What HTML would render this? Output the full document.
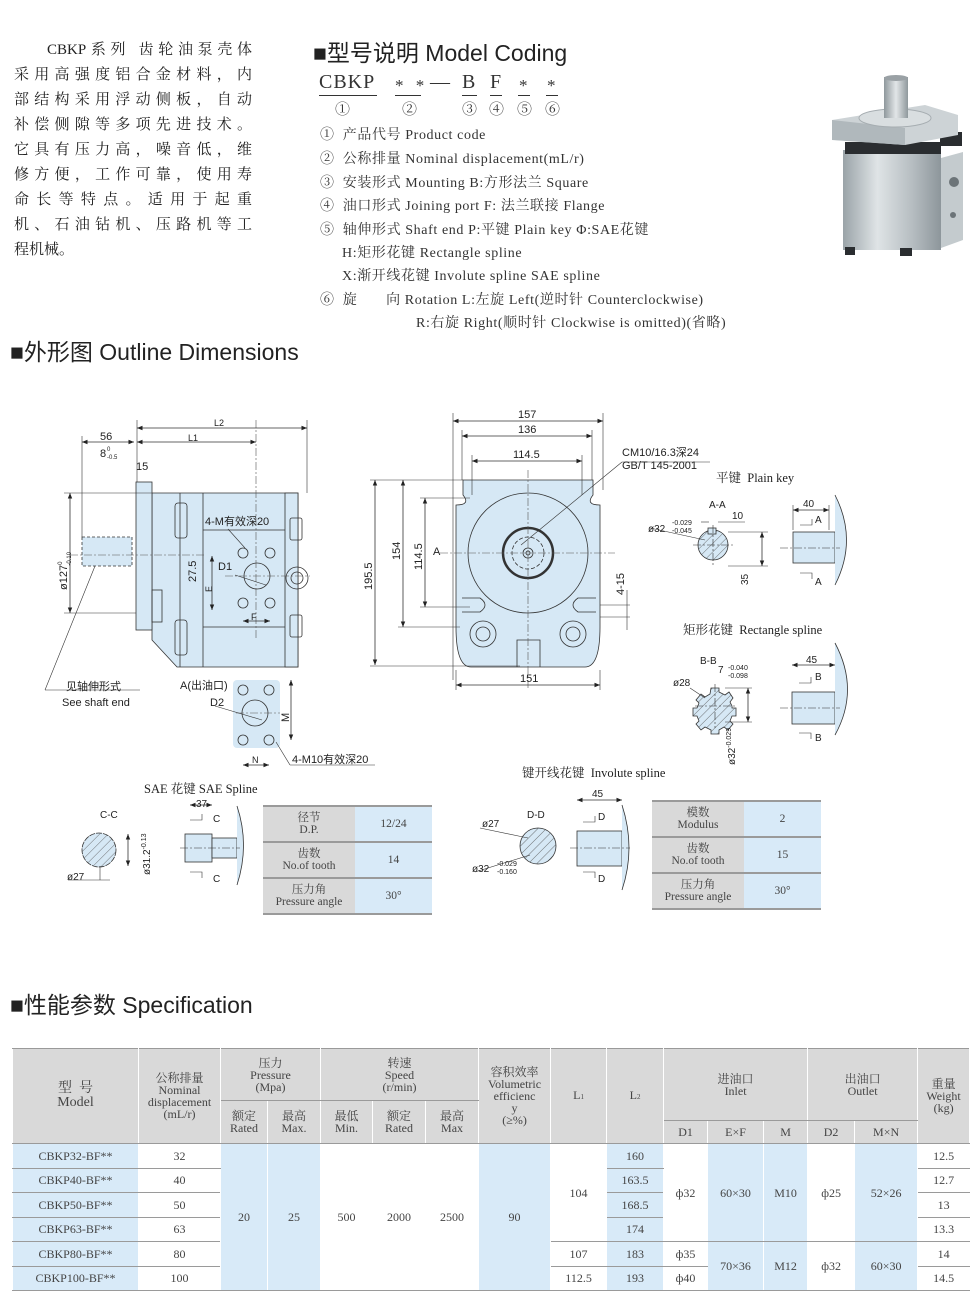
<!DOCTYPE html>
<html><head><meta charset="utf-8">
<style>
*{margin:0;padding:0;box-sizing:border-box}
body{width:980px;height:1300px;background:#fff;position:relative;overflow:hidden;font-family:"Liberation Serif","Noto Serif CJK SC",serif;color:#333}
.a{position:absolute;white-space:nowrap}
.intro{position:absolute;left:14px;width:238px;font-size:15px;text-align:justify;text-align-last:justify;line-height:25px;color:#222}
.h{font-family:"Liberation Sans","Noto Sans CJK SC",sans-serif;font-size:23px;color:#222}
.it{font-size:14px;color:#333;letter-spacing:0.6px}
.sv{position:absolute;left:0;top:0}
table.sp{position:absolute;left:12px;top:1048px;border-collapse:collapse;table-layout:fixed;font-size:12px;line-height:12px;color:#444;text-align:center}
table.sp td{border:1px solid #9a9a9a;border-left:1px solid #fff;border-right:1px solid #fff;vertical-align:middle;padding:0}
.g{background:#d9d9d9}
.b{background:#d8eaf8}
.w{background:#fff}
table.sm{position:absolute;border-collapse:collapse;font-size:11.5px;line-height:12px;color:#444;text-align:center}
table.sm td{border-top:2px solid #9a9a9a;border-bottom:2px solid #9a9a9a;padding:0}
</style></head><body>

<div class="intro" style="top:38px;padding-left:33px">CBKP系列 齿轮油泵壳体</div>
<div class="intro" style="top:63px">采用高强度铝合金材料，内</div>
<div class="intro" style="top:88px">部结构采用浮动侧板，自动</div>
<div class="intro" style="top:113px">补偿侧隙等多项先进技术。</div>
<div class="intro" style="top:138px">它具有压力高，噪音低，维</div>
<div class="intro" style="top:163px">修方便，工作可靠，使用寿</div>
<div class="intro" style="top:188px">命长等特点。适用于起重</div>
<div class="intro" style="top:213px">机、石油钻机、压路机等工</div>
<div class="intro" style="top:238px;text-align-last:left">程机械。</div>

<div class="a h" style="left:313px;top:34px">■型号说明 Model Coding</div>
<div class="a h" style="left:10px;top:333px">■外形图 Outline Dimensions</div>
<div class="a h" style="left:10px;top:986px">■性能参数 Specification</div>

<div class="a" style="left:319px;top:71px;font-size:20px;letter-spacing:1px">CBKP</div>
<div class="a" style="left:395px;top:76px;font-size:17px;letter-spacing:4px">* *</div>
<div class="a" style="left:430px;top:71px;font-size:20px">—</div>
<div class="a" style="left:462px;top:71px;font-size:20px">B</div>
<div class="a" style="left:490px;top:71px;font-size:20px">F</div>
<div class="a" style="left:519px;top:76px;font-size:17px">*</div>
<div class="a" style="left:547px;top:76px;font-size:17px">*</div>
<div class="a" style="left:319px;top:95px;width:58px;height:1px;background:#333"></div>
<div class="a" style="left:395px;top:95px;width:26px;height:1px;background:#333"></div>
<div class="a" style="left:462px;top:95px;width:15px;height:1px;background:#333"></div>
<div class="a" style="left:490px;top:95px;width:12px;height:1px;background:#333"></div>
<div class="a" style="left:518px;top:95px;width:12px;height:1px;background:#333"></div>
<div class="a" style="left:546px;top:95px;width:12px;height:1px;background:#333"></div>
<div class="a" style="left:335px;top:98px;font-size:15px">①</div>
<div class="a" style="left:402px;top:98px;font-size:15px">②</div>
<div class="a" style="left:462px;top:98px;font-size:15px">③</div>
<div class="a" style="left:489px;top:98px;font-size:15px">④</div>
<div class="a" style="left:517px;top:98px;font-size:15px">⑤</div>
<div class="a" style="left:545px;top:98px;font-size:15px">⑥</div>

<div class="a it" style="left:320px;top:124px">①&nbsp; 产品代号 Product code</div>
<div class="a it" style="left:320px;top:148px">②&nbsp; 公称排量 Nominal displacement(mL/r)</div>
<div class="a it" style="left:320px;top:172px">③&nbsp; 安装形式 Mounting B:方形法兰 Square</div>
<div class="a it" style="left:320px;top:195px">④&nbsp; 油口形式 Joining port F: 法兰联接 Flange</div>
<div class="a it" style="left:320px;top:219px">⑤&nbsp; 轴伸形式 Shaft end P:平键 Plain key Φ:SAE花键</div>
<div class="a it" style="left:342px;top:242px">H:矩形花键 Rectangle spline</div>
<div class="a it" style="left:342px;top:265px">X:渐开线花键 Involute spline SAE spline</div>
<div class="a it" style="left:320px;top:289px">⑥&nbsp; 旋&nbsp;&nbsp;&nbsp;&nbsp;&nbsp;&nbsp; 向 Rotation L:左旋 Left(逆时针 Counterclockwise)</div>
<div class="a it" style="left:416px;top:312px">R:右旋 Right(顺时针 Clockwise is omitted)(省略)</div>

<svg class="sv" width="980" height="1300" viewBox="0 0 980 1300">
<defs>
<linearGradient id="pg" x1="0" x2="1"><stop offset="0" stop-color="#9aa3a8"/><stop offset=".35" stop-color="#dfe4e6"/><stop offset=".7" stop-color="#b7bec2"/><stop offset="1" stop-color="#8d969b"/></linearGradient>
<linearGradient id="sg" x1="0" x2="1"><stop offset="0" stop-color="#8f989c"/><stop offset=".5" stop-color="#e2e6e8"/><stop offset="1" stop-color="#8f989c"/></linearGradient>
</defs>
<rect x="843" y="150" width="98" height="100" fill="url(#pg)"/>
<polygon points="941,158 963,152 963,240 941,248" fill="#c4cbce"/>
<rect x="845" y="142" width="96" height="12" fill="#2a2d30"/>
<rect x="940" y="132" width="22" height="14" fill="#2a2d30"/>
<polygon points="832,120 925,105 958,115 958,135 905,145 835,140" fill="#cdd3d6"/>
<polygon points="832,120 905,128 905,145 832,140" fill="#b0b8bc"/>
<ellipse cx="895" cy="118" rx="36" ry="9" fill="#d9dee0" stroke="#a6adb1"/>
<rect x="884" y="77" width="24" height="41" fill="url(#sg)"/>
<ellipse cx="896" cy="78" rx="12" ry="3" fill="#9aa1a5"/>
<circle cx="954" cy="182" r="5" fill="#6c7478"/><circle cx="953" cy="215" r="3" fill="#6c7478"/>
<rect x="845" y="247" width="10" height="8" fill="#2a2d30"/><rect x="900" y="248" width="12" height="8" fill="#2a2d30"/>
</svg>

<svg class="sv" width="980" height="1300" viewBox="0 0 980 1300" font-family="Liberation Sans, Noto Sans CJK SC, sans-serif" font-size="11" fill="none" stroke="#333" stroke-width="0.8">
<defs>
<marker id="ar" viewBox="0 0 10 10" refX="10" refY="5" markerWidth="7" markerHeight="7" orient="auto-start-reverse"><path d="M0,1 L10,5 L0,9z" fill="#222" stroke="none"/></marker>
<pattern id="hat" width="6" height="6" patternUnits="userSpaceOnUse" patternTransform="rotate(45)"><rect width="6" height="6" fill="#d6e8f5" stroke="none"/><line x1="0" y1="0" x2="0" y2="6" stroke="#555" stroke-width="0.8"/></pattern>
</defs>
<g fill="#d6e8f5">
<rect x="82" y="537" width="50" height="29" stroke-dasharray="3,2"/>
<path d="M152,493 H298 V667 H177 L152,640 Z"/>
<rect x="136" y="482" width="16" height="148"/>
<rect x="285" y="493" width="13" height="174"/>
<rect x="233" y="680" width="47" height="68" rx="4" stroke="none"/>
<path d="M463,480 H593 V495 Q585,505 600,505 V627 Q600,667 585,667 H471 Q456,667 456,627 V505 Q471,505 463,495 Z"/>
</g>
<g>
<line x1="203" y1="493" x2="203" y2="667"/><line x1="180" y1="493" x2="180" y2="667"/>
<line x1="203" y1="530" x2="285" y2="530"/><line x1="203" y1="627" x2="285" y2="627"/>
<rect x="175" y="503" width="12" height="35" rx="3"/><rect x="175" y="620" width="12" height="35" rx="3"/>
<rect x="290" y="518" width="12" height="22" rx="2"/><rect x="290" y="615" width="12" height="22" rx="2"/>
<circle cx="297" cy="578" r="11"/><circle cx="297" cy="578" r="6"/>
<circle cx="257" cy="576" r="13"/>
<circle cx="243" cy="553" r="5"/><circle cx="270" cy="553" r="5"/><circle cx="243" cy="603" r="5"/><circle cx="270" cy="603" r="5"/>
<rect x="152" y="590" width="10" height="32"/>
<circle cx="255" cy="713" r="13"/>
<circle cx="243" cy="690" r="5"/><circle cx="269" cy="690" r="5"/><circle cx="243" cy="740" r="5"/><circle cx="269" cy="740" r="5"/>
<circle cx="528" cy="553" r="60"/>
<circle cx="528" cy="553" r="25" stroke-width="2.5"/>
<circle cx="528" cy="553" r="16" stroke-dasharray="4,2"/>
<circle cx="528" cy="553" r="5"/><circle cx="528" cy="553" r="2"/>
<path d="M462,598 H480 Q490,605 480,612 H462"/><path d="M596,598 H578 Q568,605 578,612 H596"/>
<circle cx="483" cy="634" r="13"/><circle cx="483" cy="634" r="7"/>
<circle cx="573" cy="634" r="13"/><circle cx="573" cy="634" r="7"/>
<path d="M517,667 V640 H540 V667"/>
</g>
<g stroke="#555" stroke-dasharray="8,2,2,2" stroke-width="0.6">
<line x1="70" y1="555" x2="205" y2="555"/><line x1="256" y1="420" x2="256" y2="640"/><line x1="225" y1="576" x2="310" y2="576"/>
<line x1="528" y1="470" x2="528" y2="690"/><line x1="440" y1="553" x2="615" y2="553"/>
<line x1="236" y1="713" x2="280" y2="713"/>
</g>
<g marker-start="url(#ar)" marker-end="url(#ar)">
<line x1="137" y1="428" x2="307" y2="428"/><line x1="137" y1="442" x2="256" y2="442"/><line x1="82" y1="442" x2="134" y2="442"/>
<line x1="70" y1="493" x2="70" y2="613"/><line x1="375" y1="480" x2="375" y2="665"/>
<line x1="453" y1="421" x2="603" y2="421"/><line x1="462" y1="436" x2="592" y2="436"/><line x1="472" y1="461" x2="582" y2="461"/>
<line x1="456" y1="685" x2="600" y2="685"/><line x1="403" y1="480" x2="403" y2="627"/><line x1="425" y1="498" x2="425" y2="607"/>
<line x1="212" y1="556" x2="212" y2="610"/><line x1="243" y1="621" x2="270" y2="621"/><line x1="291" y1="680" x2="291" y2="740"/>
<line x1="243" y1="765" x2="269" y2="765"/>
</g>
<g stroke-width="0.6">
<line x1="137" y1="420" x2="137" y2="482"/><line x1="307" y1="420" x2="307" y2="493"/><line x1="82" y1="436" x2="82" y2="537"/>
<line x1="453" y1="413" x2="453" y2="680"/><line x1="603" y1="413" x2="603" y2="490"/><line x1="462" y1="430" x2="462" y2="480"/><line x1="592" y1="430" x2="592" y2="480"/>
<line x1="472" y1="455" x2="472" y2="495"/><line x1="582" y1="455" x2="582" y2="495"/><line x1="370" y1="480" x2="463" y2="480"/><line x1="370" y1="666" x2="520" y2="666"/>
<line x1="398" y1="627" x2="460" y2="627"/><line x1="420" y1="498" x2="470" y2="498"/><line x1="420" y1="607" x2="470" y2="607"/>
<line x1="64" y1="493" x2="152" y2="493"/><line x1="64" y1="613" x2="136" y2="613"/><line x1="456" y1="670" x2="456" y2="690"/><line x1="600" y1="670" x2="600" y2="690"/>
<line x1="95" y1="566" x2="45" y2="690"/><line x1="45" y1="690" x2="140" y2="690"/>
<line x1="600" y1="605" x2="630" y2="605"/><line x1="600" y1="617" x2="630" y2="617"/><line x1="627" y1="590" x2="627" y2="630"/>
<line x1="521" y1="545" x2="622" y2="462"/><line x1="622" y1="462" x2="710" y2="462"/>
<line x1="276" y1="742" x2="290" y2="765"/><line x1="290" y1="765" x2="375" y2="765"/>
<line x1="228" y1="529" x2="245" y2="548"/><line x1="235" y1="575" x2="266" y2="585"/><line x1="215" y1="706" x2="262" y2="720"/>
</g>
<g fill="#222" stroke="none">
<text x="100" y="440">56</text><text x="214" y="426" font-size="9">L2</text><text x="188" y="441" font-size="9">L1</text>
<text x="100" y="457">8</text><text x="107" y="451" font-size="6">0</text><text x="107" y="459" font-size="6">-0.5</text>
<text x="136" y="470">15</text>
<text transform="translate(67,590) rotate(-90)">ø127<tspan font-size="6" dy="-5">0</tspan><tspan font-size="6" dx="-4" dy="9">-0.10</tspan></text>
<text transform="translate(196,582) rotate(-90)">27.5</text><text x="218" y="570">D1</text><text transform="translate(212,592) rotate(-90)" font-size="9">E</text>
<text x="251" y="620" font-size="9">F</text><text x="205" y="525">4-M有效深20</text>
<text x="66" y="690">见轴伸形式</text><text x="62" y="706">See shaft end</text>
<text x="180" y="689">A(出油口)</text><text x="210" y="706">D2</text><text transform="translate(289,722) rotate(-90)">M</text>
<text x="252" y="763" font-size="9">N</text><text x="292" y="763">4-M10有效深20</text>
<text transform="translate(372,590) rotate(-90)">195.5</text><text transform="translate(400,560) rotate(-90)">154</text><text transform="translate(422,570) rotate(-90)">114.5</text>
<text x="518" y="418">157</text><text x="518" y="433">136</text><text x="513" y="458">114.5</text><text x="520" y="682">151</text>
<text x="433" y="555">A</text><text transform="translate(624,595) rotate(-90)">4-15</text>
<text x="622" y="456">CM10/16.3深24</text><text x="622" y="469">GB/T 145-2001</text>
</g>

<g fill="#222" stroke="none" font-family="Liberation Serif, Noto Serif CJK SC, serif" font-size="12.5">
<text x="716" y="482">平键&#160; Plain key</text><text x="683" y="634">矩形花键&#160; Rectangle spline</text>
<text x="144" y="793">SAE 花键 SAE Spline</text><text x="522" y="777">键开线花键&#160; Involute spline</text>
</g>
<circle cx="713" cy="545" r="15" fill="url(#hat)"/>
<rect x="708" y="528" width="8" height="6" fill="#d6e8f5"/>
<rect x="793" y="532" width="42" height="31" fill="#d6e8f5"/>
<path d="M835,495 Q858,540 835,585" fill="#d6e8f5"/>
<path d="M711,688 h8 v4 l6,3 l4,-3 l4,6 l-3,4 l2,4 v2 h4 v8 h-4 l-2,5 l3,3 l-5,6 l-4,-3 l-5,3 v4 h-8 v-4 l-6,-3 l-4,3 l-5,-6 l3,-3 l-2,-5 h-4 v-8 h4 l2,-5 l-3,-3 l5,-6 l4,3 l5,-3 z" fill="url(#hat)"/>
<rect x="792" y="692" width="43" height="32" fill="#d6e8f5"/>
<path d="M835,643 Q860,690 835,735" fill="#d6e8f5"/>
<circle cx="99" cy="850" r="17" fill="url(#hat)" stroke-dasharray="6,1"/>
<rect x="185" y="834" width="27" height="28" fill="#d6e8f5"/><rect x="212" y="838" width="25" height="20" fill="#d6e8f5"/>
<path d="M237,806 Q250,845 237,885" fill="#d6e8f5"/>
<circle cx="538" cy="846" r="18" fill="url(#hat)"/>
<rect x="577" y="831" width="45" height="35" fill="#d6e8f5"/>
<path d="M622,805 Q636,848 622,890" fill="#d6e8f5"/>
<g marker-start="url(#ar)" marker-end="url(#ar)">
<line x1="793" y1="510" x2="829" y2="510"/><line x1="762" y1="532" x2="762" y2="566"/>
<line x1="792" y1="665" x2="835" y2="665"/><line x1="190" y1="805" x2="212" y2="805"/>
<line x1="128" y1="834" x2="128" y2="866"/><line x1="577" y1="800" x2="622" y2="800"/>
<line x1="748" y1="688" x2="748" y2="722"/>
</g>
<g stroke-width="0.6" stroke-dasharray="8,2,2,2"><line x1="780" y1="548" x2="840" y2="548"/><line x1="780" y1="708" x2="840" y2="708"/><line x1="180" y1="848" x2="240" y2="848"/><line x1="570" y1="848" x2="630" y2="848"/><line x1="693" y1="545" x2="733" y2="545"/><line x1="713" y1="525" x2="713" y2="565"/><line x1="695" y1="706" x2="737" y2="706"/><line x1="715" y1="684" x2="715" y2="728"/></g>
<g stroke-width="0.6">
<line x1="793" y1="505" x2="793" y2="530"/><line x1="829" y1="505" x2="829" y2="530"/><line x1="728" y1="532" x2="768" y2="532"/><line x1="728" y1="566" x2="768" y2="566"/>
<line x1="701" y1="522" x2="709" y2="522"/><line x1="718" y1="522" x2="745" y2="522"/>
<line x1="650" y1="528" x2="705" y2="540"/><line x1="690" y1="688" x2="705" y2="698"/><line x1="68" y1="880" x2="110" y2="880"/><line x1="100" y1="866" x2="100" y2="880"/>
<line x1="480" y1="828" x2="528" y2="838"/><line x1="475" y1="872" x2="530" y2="855"/>
<line x1="725" y1="688" x2="752" y2="688"/><line x1="725" y1="722" x2="752" y2="722"/>
<path d="M800,525 h12 v-6"/><path d="M800,573 h12 v6"/><path d="M799,683 h12 v-6"/><path d="M799,733 h12 v6"/>
<path d="M190,820 h12 v-6"/><path d="M190,872 h12 v6"/><path d="M583,822 h12 v-6"/><path d="M583,872 h12 v6"/>
</g>
<g fill="#222" stroke="none" font-size="10">
<text x="803" y="507">40</text><text x="709" y="508">A-A</text><text x="732" y="519">10</text>
<text x="648" y="532">ø32</text><text x="672" y="525" font-size="7">-0.029</text><text x="672" y="533" font-size="7">-0.045</text>
<text transform="translate(748,585) rotate(-90)">35</text><text x="815" y="523">A</text><text x="815" y="585">A</text>
<text x="806" y="663">45</text><text x="700" y="664">B-B</text><text x="718" y="673">7</text><text x="728" y="670" font-size="7">-0.040</text><text x="728" y="678" font-size="7">-0.098</text>
<text x="673" y="686">ø28</text><text transform="translate(735,765) rotate(-90)">ø32<tspan font-size="7" dy="-4">-0.029</tspan></text><text x="815" y="680">B</text><text x="815" y="741">B</text>
<text x="100" y="818">C-C</text><text x="67" y="880">ø27</text><text transform="translate(150,875) rotate(-90)">ø31.2<tspan font-size="7" dy="-4">-0.13</tspan></text>
<text x="196" y="807">37</text><text x="213" y="822">C</text><text x="213" y="882">C</text>
<text x="527" y="818">D-D</text><text x="482" y="827">ø27</text><text x="472" y="872">ø32</text><text x="497" y="866" font-size="7">-0.029</text><text x="497" y="874" font-size="7">-0.160</text>
<text x="592" y="797">45</text><text x="598" y="820">D</text><text x="598" y="882">D</text>
</g>
</svg>

<table class="sm" style="left:263px;top:805px;width:169px">
<tr style="height:36px"><td class="g" style="width:92px">径节<br>D.P.</td><td class="b">12/24</td></tr>
<tr style="height:36px"><td class="g">齿数<br>No.of tooth</td><td class="b">14</td></tr>
<tr style="height:36px"><td class="g">压力角<br>Pressure angle</td><td class="b">30°</td></tr>
</table>
<table class="sm" style="left:652px;top:800px;width:169px">
<tr style="height:36px"><td class="g" style="width:92px">模数<br>Modulus</td><td class="b">2</td></tr>
<tr style="height:36px"><td class="g">齿数<br>No.of tooth</td><td class="b">15</td></tr>
<tr style="height:36px"><td class="g">压力角<br>Pressure angle</td><td class="b">30°</td></tr>
</table>

<table class="sp" style="width:957px">
<colgroup><col style="width:126px"><col style="width:82px"><col style="width:47px"><col style="width:53px"><col style="width:52px"><col style="width:53px"><col style="width:53px"><col style="width:72px"><col style="width:56px"><col style="width:57px"><col style="width:44px"><col style="width:56px"><col style="width:44px"><col style="width:47px"><col style="width:63px"><col style="width:52px"></colgroup>
<tr style="height:52px"><td class="g" rowspan="3" style="font-size:14px;line-height:14px">型&nbsp;&nbsp;号<br>Model</td><td class="g" rowspan="3">公称排量<br>Nominal<br>displacement<br>(mL/r)</td><td class="g" colspan="2">压力<br>Pressure<br>(Mpa)</td><td class="g" colspan="3">转速<br>Speed<br>(r/min)</td><td class="g" rowspan="3">容积效率<br>Volumetric<br>efficienc<br>y<br>(≥%)</td><td class="g" rowspan="3">L<span style="font-size:7px">1</span></td><td class="g" rowspan="3">L<span style="font-size:7px">2</span></td><td class="g" colspan="3" rowspan="2">进油口<br>Inlet</td><td class="g" colspan="2" rowspan="2">出油口<br>Outlet</td><td class="g" rowspan="3">重量<br>Weight<br>(kg)</td></tr>
<tr style="height:20px"><td class="g" rowspan="2">额定<br>Rated</td><td class="g" rowspan="2">最高<br>Max.</td><td class="g" rowspan="2">最低<br>Min.</td><td class="g" rowspan="2">额定<br>Rated</td><td class="g" rowspan="2">最高<br>Max</td></tr>
<tr style="height:23px"><td class="g">D1</td><td class="g">E×F</td><td class="g">M</td><td class="g">D2</td><td class="g">M×N</td></tr>
<tr style="height:24.5px"><td class="b">CBKP32-BF**</td><td class="w">32</td><td class="b" rowspan="6">20</td><td class="b" rowspan="6">25</td><td class="w" rowspan="6">500</td><td class="w" rowspan="6">2000</td><td class="w" rowspan="6">2500</td><td class="b" rowspan="6">90</td><td class="w" rowspan="4">104</td><td class="b">160</td><td class="w" rowspan="4">ф32</td><td class="b" rowspan="4">60×30</td><td class="b" rowspan="4">M10</td><td class="w" rowspan="4">ф25</td><td class="b" rowspan="4">52×26</td><td class="w">12.5</td></tr>
<tr style="height:24.5px"><td class="b">CBKP40-BF**</td><td class="w">40</td><td class="b">163.5</td><td class="w">12.7</td></tr>
<tr style="height:24.5px"><td class="b">CBKP50-BF**</td><td class="w">50</td><td class="b">168.5</td><td class="w">13</td></tr>
<tr style="height:24.5px"><td class="b">CBKP63-BF**</td><td class="w">63</td><td class="b">174</td><td class="w">13.3</td></tr>
<tr style="height:24.5px"><td class="b">CBKP80-BF**</td><td class="w">80</td><td class="w">107</td><td class="b">183</td><td class="w">ф35</td><td class="b" rowspan="2">70×36</td><td class="b" rowspan="2">M12</td><td class="w" rowspan="2">ф32</td><td class="b" rowspan="2">60×30</td><td class="w">14</td></tr>
<tr style="height:24.5px"><td class="b">CBKP100-BF**</td><td class="w">100</td><td class="w">112.5</td><td class="b">193</td><td class="w">ф40</td><td class="w">14.5</td></tr>
</table>
</body></html>
